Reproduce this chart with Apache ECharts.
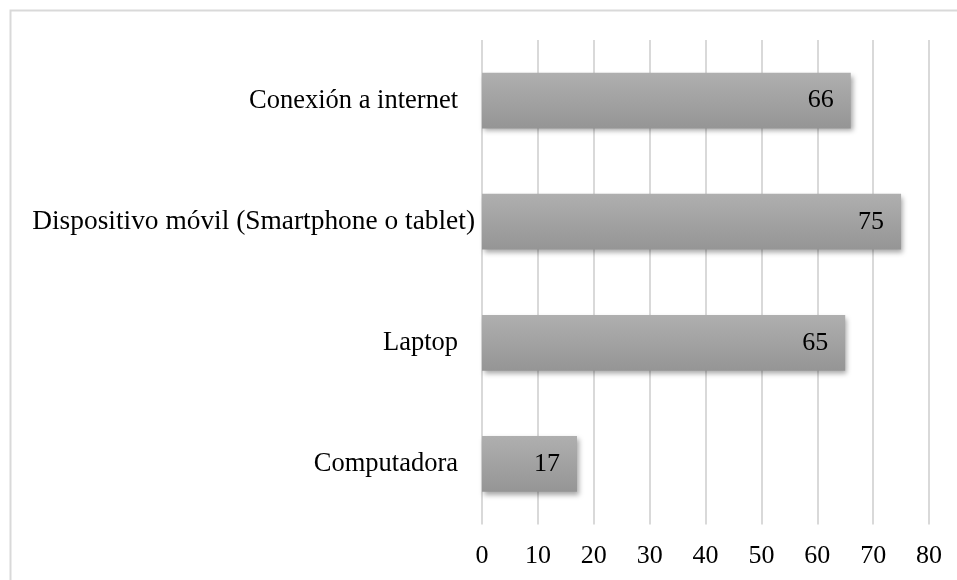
<!DOCTYPE html>
<html>
<head>
<meta charset="utf-8">
<script src="https://cdn.jsdelivr.net/npm/echarts@6/dist/echarts.min.js"></script>
<style>
html,body{margin:0;padding:0;background:#fff;}
#chart{width:957px;height:580px;}
</style>
</head>
<body>
<div id="chart"></div>
<script>
var categories = ['Computadora', 'Laptop', 'Dispositivo móvil (Smartphone o tablet)', 'Conexión a internet'];
var values = [17, 65, 75, 66];
var tickMin = 0, tickMax = 80, tickStep = 10;

var chart = echarts.init(document.getElementById('chart'), null, {renderer: 'canvas'});
var font = '"Liberation Serif", "Times New Roman", serif';
chart.setOption({
  animation: false,
  backgroundColor: '#ffffff',
  graphic: [{
    type: 'rect',
    shape: {x: 10.5, y: 10.5, width: 1000, height: 700},
    style: {fill: 'none', stroke: '#d9d9d9', lineWidth: 2},
    silent: true
  }],
  grid: {left: 482, right: 28, top: 40, bottom: 55.5, containLabel: false},
  xAxis: {
    type: 'value', min: tickMin, max: tickMax, interval: tickStep,
    axisLine: {show: false}, axisTick: {show: false},
    splitLine: {show: true, lineStyle: {color: '#d9d9d9', width: 2}},
    axisLabel: {color: '#000', fontSize: 26, fontFamily: font, margin: 19}
  },
  yAxis: {
    type: 'category', data: categories,
    axisLine: {show: false}, axisTick: {show: false},
    axisLabel: {
      color: '#000', fontSize: 26.5, fontFamily: font, margin: 7,
      formatter: function (v, i) { return i === 2 ? '{a|' + v + '}' : '{b|' + v + '}'; },
      rich: {
        a: {color: '#000', fontSize: 27.4, fontFamily: font},
        b: {color: '#000', fontSize: 26.5, fontFamily: font, padding: [0, 17, 0, 0]}
      }
    }
  },
  series: [{
    type: 'bar', data: values, barCategoryGap: '54%',
    itemStyle: {
      color: new echarts.graphic.LinearGradient(0, 0, 0, 1, [
        {offset: 0, color: '#afafaf'},
        {offset: 1, color: '#959595'}
      ]),
      shadowColor: 'rgba(0,0,0,0.35)', shadowBlur: 5, shadowOffsetX: 2, shadowOffsetY: 3
    },
    label: {show: true, position: 'insideRight', distance: 17, color: '#000', fontSize: 26, fontFamily: font}
  }]
});
</script>
</body>
</html>
